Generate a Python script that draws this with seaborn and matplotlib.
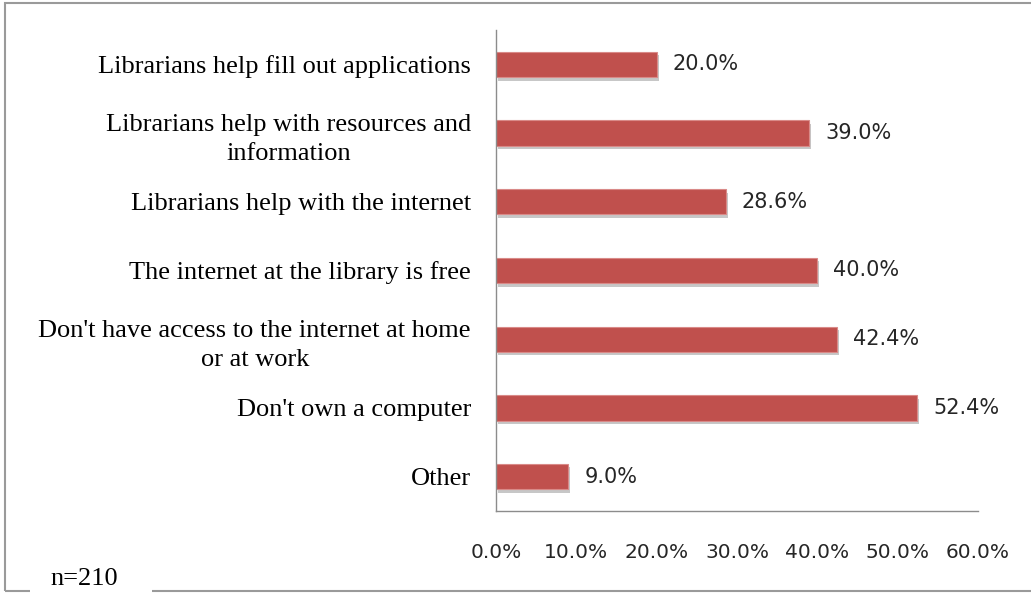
import matplotlib
matplotlib.use("Agg")
import matplotlib.pyplot as plt
import matplotlib.patheffects as pe
from matplotlib.patches import Rectangle
import seaborn as sns
import pandas as pd

categories = [
    "Librarians help fill out applications",
    "Librarians help with resources and\ninformation",
    "Librarians help with the internet",
    "The internet at the library is free",
    "Don't have access to the internet at home\nor at work",
    "Don't own a computer",
    "Other",
]
values = [20.0, 39.0, 28.6, 40.0, 42.4, 52.4, 9.0]
x_ticks = [0, 10, 20, 30, 40, 50, 60]
x_tick_labels = ["0.0%", "10.0%", "20.0%", "30.0%", "40.0%", "50.0%", "60.0%"]
note = "n=210"

sns.set_style("white")
plt.rcParams["font.family"] = ["DejaVu Sans"]

df = pd.DataFrame({"category": categories, "value": values})

fig = plt.figure(figsize=(10.31, 5.94), dpi=100)
ax = fig.add_axes([496 / 1031, 1 - 511 / 594, (978 - 496) / 1031, (511 - 30) / 594])

sns.barplot(data=df, y="category", x="value", orient="h", color="#C0504D",
            saturation=1, width=0.37, ax=ax, edgecolor="#D98A88", linewidth=0.8)

for p in ax.patches:
    p.set_path_effects([pe.SimplePatchShadow(offset=(1.5, -2.5), shadow_rgbFace="#999999", alpha=0.55),
                        pe.Normal()])

for i, v in enumerate(values):
    ax.text(v + 2.0, i, f"{v:.1f}%", va="center", ha="left", fontsize=15,
            color="#262626", family="DejaVu Sans")

ax.set_xlim(0, 60)
ax.set_xticks(x_ticks)
ax.set_xticklabels(x_tick_labels, fontsize=14.5, color="#262626")
ax.set_ylim(6.5, -0.5)
ax.set_yticks(range(len(categories)))
ax.set_yticklabels(categories, fontsize=19, family="Liberation Serif", color="black",
                   multialignment="center", linespacing=1.45)
ax.set_xlabel("")
ax.set_ylabel("")
ax.tick_params(axis="x", length=0, pad=23)
ax.tick_params(axis="y", length=0, pad=18)
for s in ["top", "right"]:
    ax.spines[s].set_visible(False)
for s in ["left", "bottom"]:
    ax.spines[s].set_color("#8C8C8C")
    ax.spines[s].set_linewidth(1.0)

# figure border
fig.patches.append(Rectangle((5 / 1031, 3 / 594), 1.2, 1 - 6 / 594, transform=fig.transFigure,
                             fill=False, edgecolor="#9A9A9A", linewidth=1.5, zorder=0))
# white box behind the note
fig.patches.append(Rectangle((30 / 1031, 0), 122 / 1031, 8 / 594, transform=fig.transFigure,
                             facecolor="white", edgecolor="none", zorder=1))
fig.text(50 / 1031, 4 / 594, note, fontsize=19, family="Liberation Serif", ha="left",
         va="bottom", color="black", zorder=2)

fig.savefig("out.png", dpi=100)
